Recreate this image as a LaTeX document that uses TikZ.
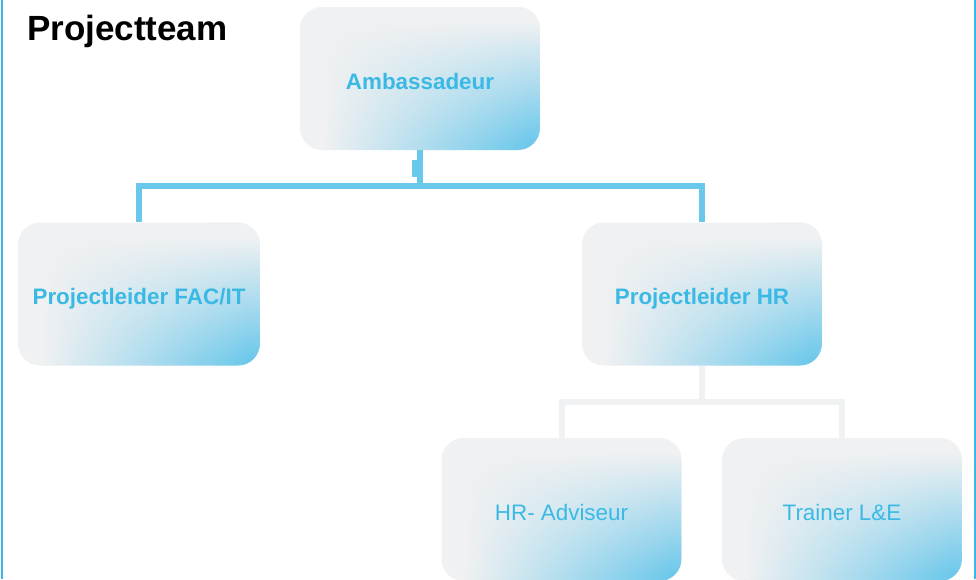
\documentclass[tikz,border=0pt]{standalone}
\usepackage{fontspec}
\setmainfont{Liberation Sans}
\usetikzlibrary{fadings}
\definecolor{boxgray}{HTML}{F0F1F2}
\definecolor{boxblue}{HTML}{6CC8EB}
\definecolor{txtblue}{HTML}{3BB9E5}
\definecolor{connblue}{HTML}{6AC7EC}
\definecolor{framecol}{HTML}{3BB5E3}
\definecolor{conngray}{HTML}{F0F1F2}
\pgfdeclareverticalshading{boxv}{100bp}{color(0bp)=(boxblue); color(27bp)=(boxblue); color(70bp)=(boxgray); color(100bp)=(boxgray)}
\begin{tikzfadingfrompicture}[name=hfade]
  \fill[transparent!100] (-50bp,-50bp) rectangle (-20bp,50bp);
  \shade[left color=transparent!100, right color=transparent!0] (-20bp,-50bp) rectangle (23bp,50bp);
  \fill[transparent!0] (23bp,-50bp) rectangle (50bp,50bp);
\end{tikzfadingfrompicture}
\begin{document}
\begin{tikzpicture}[x=1pt,y=-1pt,
  orgbox/.style={rectangle, rounded corners=22pt, minimum width=240pt, minimum height=143pt,
    inner sep=0pt, fill=boxgray, text=txtblue, text height=21pt, text depth=0pt,
    postaction={shade, shading=boxv, path fading=hfade, fit fading=true}},
  boldtxt/.style={font=\bfseries\fontsize{22.4}{26}\selectfont},
  regtxt/.style={font=\fontsize{22.4}{26}\selectfont},
  blueline/.style={draw=connblue, line width=6.5pt, line join=miter},
  grayline/.style={draw=conngray, line width=6pt, line join=miter},
  frameline/.style={draw=framecol, line width=2.5pt}]
\useasboundingbox (0,0) rectangle (976,579);
% frame
\draw[frameline] (2,0) -- (2,579);
\draw[frameline] (975,0) -- (975,579);
% title
\node[anchor=base west, inner sep=0pt, font=\bfseries\fontsize{35}{40}\selectfont] (title) at (27,40) {Projectteam};
% boxes
\node[orgbox, boldtxt] (amb) at (420,78.5) {Ambassadeur};
\node[orgbox, boldtxt, minimum width=242pt] (fac) at (139,294) {Projectleider FAC/IT};
\node[orgbox, boldtxt] (hr) at (702,294) {Projectleider HR};
\node[orgbox, regtxt] (hradv) at (561.5,509.5) {HR- Adviseur};
\node[orgbox, regtxt] (trainer) at (842,509.5) {Trainer L\&E};
% blue connectors
\coordinate (j1) at (420,186);
\draw[blueline] (amb.south) -- (j1);
\draw[blueline] (fac.north) |- (j1) -| (hr.north);
\fill[connblue] (411.7,160) rectangle (417,177);
% gray connectors
\coordinate (j2) at (702,402);
\draw[grayline] (hr.south) -- (j2);
\draw[grayline] (hradv.north) |- (j2) -| (trainer.north);
\end{tikzpicture}
\end{document}
